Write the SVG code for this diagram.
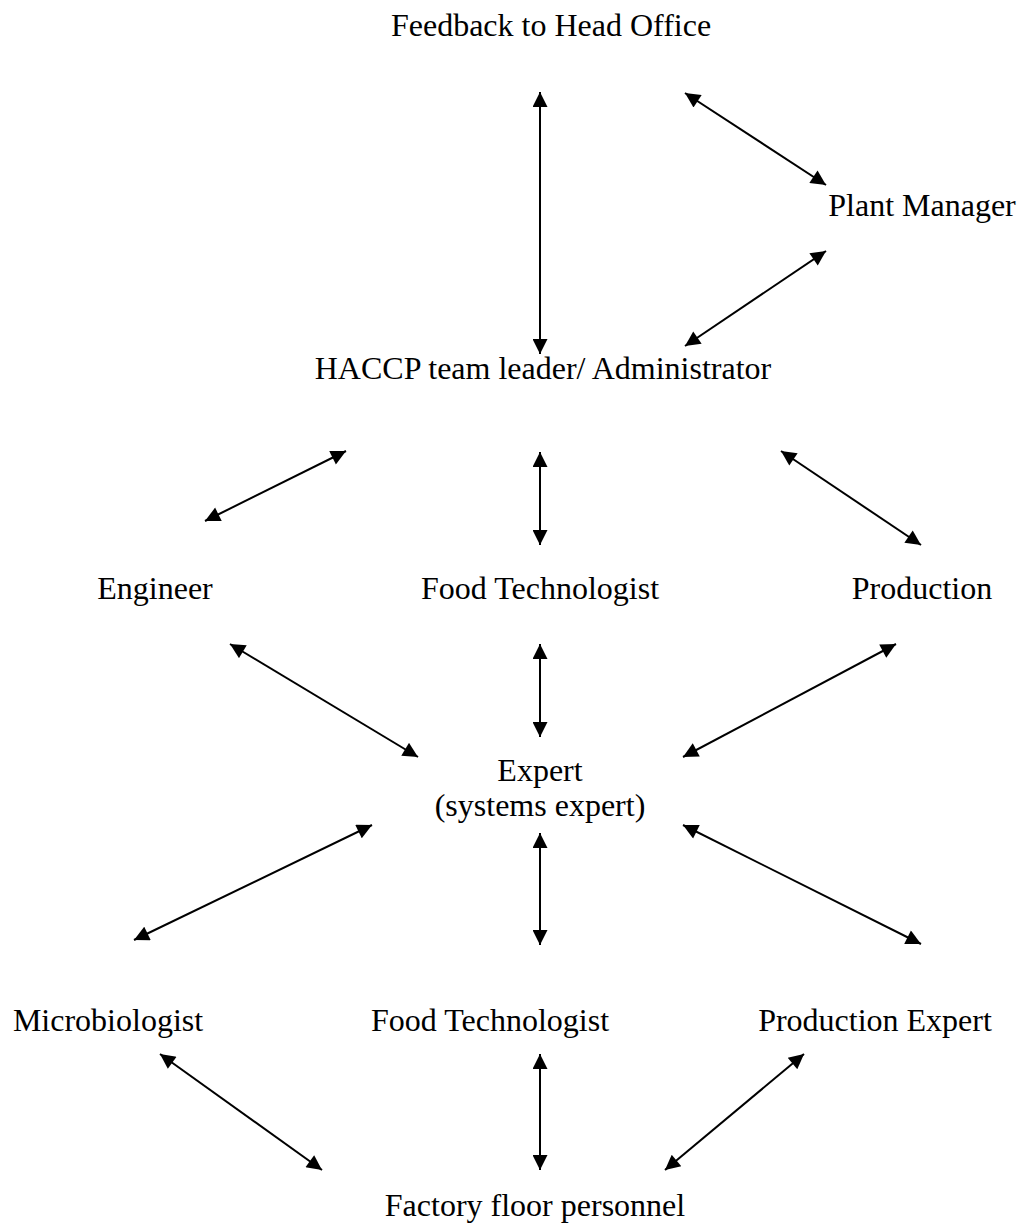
<svg xmlns="http://www.w3.org/2000/svg" width="1023" height="1230" viewBox="0 0 1023 1230">
<defs>
<marker id="ah" viewBox="0 0 10 10" refX="10" refY="5" markerWidth="8.5" markerHeight="7.5" markerUnits="strokeWidth" orient="auto-start-reverse">
<path d="M0,0 L10,5 L0,10 z" fill="#000"/>
</marker>
<style>
text{font-family:"Liberation Serif","Times New Roman",serif;font-size:32px;fill:#000;text-anchor:middle}
.c line{stroke:#000;stroke-width:2;marker-start:url(#ah);marker-end:url(#ah)}
</style>
</defs>
<rect width="1023" height="1230" fill="#fff"/>
<g id="n-feedback"><text x="551" y="36">Feedback to Head Office</text></g>
<g id="n-plant"><text x="922" y="216">Plant Manager</text></g>
<g id="n-haccp"><text x="543" y="379">HACCP team leader/ Administrator</text></g>
<g id="n-engineer"><text x="155" y="599">Engineer</text></g>
<g id="n-foodtech1"><text x="540" y="599">Food Technologist</text></g>
<g id="n-production"><text x="922" y="599">Production</text></g>
<g id="n-expert"><text x="540" y="781">Expert</text><text x="540" y="816">(systems expert)</text></g>
<g id="n-micro"><text x="108" y="1031">Microbiologist</text></g>
<g id="n-foodtech2"><text x="490" y="1031">Food Technologist</text></g>
<g id="n-prodexpert"><text x="875" y="1031">Production Expert</text></g>
<g id="n-factory"><text x="535" y="1216">Factory floor personnel</text></g>
<g id="connectors" class="c">
<line x1="540" y1="92" x2="540" y2="354"/>
<line x1="685" y1="93" x2="826" y2="185"/>
<line x1="826" y1="251" x2="685" y2="346"/>
<line x1="346" y1="451" x2="205" y2="521"/>
<line x1="540" y1="452" x2="540" y2="545"/>
<line x1="781" y1="451" x2="921" y2="545"/>
<line x1="230" y1="644" x2="418" y2="757"/>
<line x1="540" y1="644" x2="540" y2="737"/>
<line x1="896" y1="644" x2="683" y2="757"/>
<line x1="372" y1="825" x2="134" y2="940"/>
<line x1="540" y1="833" x2="540" y2="945"/>
<line x1="683" y1="825" x2="921" y2="944"/>
<line x1="160" y1="1054" x2="322" y2="1170"/>
<line x1="540" y1="1054" x2="540" y2="1170"/>
<line x1="804" y1="1054" x2="665" y2="1170"/>
</g>
</svg>
